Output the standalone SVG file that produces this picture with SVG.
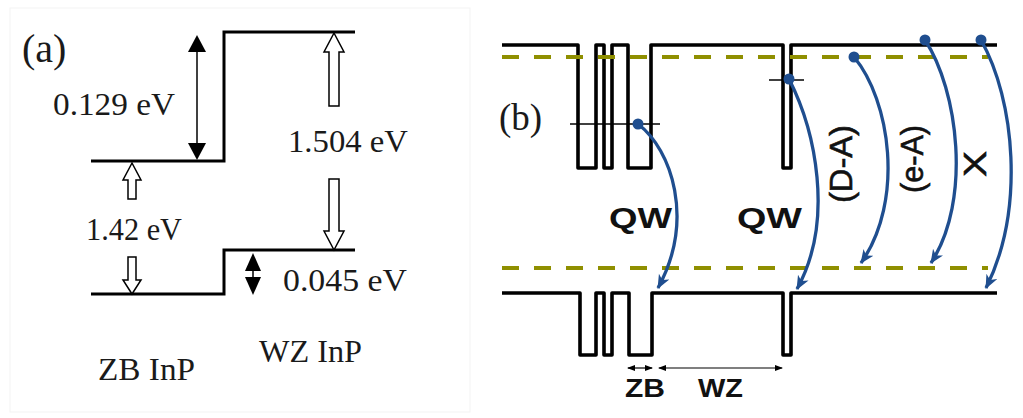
<svg xmlns="http://www.w3.org/2000/svg" width="1023" height="418" viewBox="0 0 1023 418">
<style>
.band{fill:none;stroke:#000;stroke-width:3;stroke-linejoin:miter}
.bandb{fill:none;stroke:#000;stroke-width:3.6;stroke-linejoin:round}
.thin{fill:none;stroke:#000;stroke-width:1.3}
.hollow{fill:#fff;stroke:#000;stroke-width:1.5}
.solid{fill:#000}
.serif{font-family:"Liberation Serif","Times New Roman",serif;fill:#1a1a1a}
.sans{font-family:"Liberation Sans",Arial,sans-serif;font-weight:bold;fill:#111}
.rot{font-family:"Liberation Sans",Arial,sans-serif;fill:#111;stroke:#111;stroke-width:0.6}
.dash{fill:none;stroke:#8f8f00;stroke-width:4;stroke-dasharray:17 15}
.trans{fill:none;stroke:#1f4e8f;stroke-width:3.3;marker-end:url(#blueHead)}
.dot{fill:#1f4e8f}
.dim{fill:none;stroke:#000;stroke-width:1.2;marker-start:url(#smallHead);marker-end:url(#smallHead)}
</style>
<defs>
<marker id="blueHead" markerUnits="userSpaceOnUse" markerWidth="16" markerHeight="14" refX="13" refY="6" orient="auto">
<path d="M0,0 L14,6 L0,12 L4,6 Z" fill="#1f4e8f"/>
</marker>
<marker id="smallHead" markerUnits="userSpaceOnUse" markerWidth="8" markerHeight="6" refX="7" refY="3" orient="auto-start-reverse">
<path d="M0,0 L8,3 L0,6 Z" fill="#000"/>
</marker>
</defs>
<rect x="0" y="0" width="1023" height="418" fill="#fff"/>
<rect x="10" y="8" width="460" height="404" fill="none" stroke="#f3f3f3" stroke-width="1"/>

<g id="panel-a">
<g id="band-a-conduction">
<path class="band" d="M91,161 H224 V32 H355"/>
</g>
<g id="band-a-valence">
<path class="band" d="M91,294 H224 V250 H355"/>
</g>
<g id="arrow-0129">
<line x1="197" y1="50" x2="197" y2="145" stroke="#000" stroke-width="1.5"/>
<polygon class="solid" points="197,35 188,52 206,52"/>
<polygon class="solid" points="197,160 188,143 206,143"/>
</g>
<g id="arrow-0045">
<line x1="253" y1="268" x2="253" y2="280" stroke="#000" stroke-width="1.5"/>
<polygon class="solid" points="253,253 245,271 261,271"/>
<polygon class="solid" points="253,295 245,277 261,277"/>
</g>
<g id="gap-zb">
<polygon class="hollow" points="132,163 141,180 136,180 136,199 128,199 128,180 123,180"/>
<polygon class="hollow" points="128,257 136,257 136,280 141,280 132,294 123,280 128,280"/>
</g>
<g id="gap-wz">
<polygon class="hollow" points="334,33 344,52 339,52 339,106 329,106 329,52 324,52"/>
<polygon class="hollow" points="329,179 339,179 339,231 344,231 334,250 324,231 329,231"/>
</g>
<text class="serif" x="22" y="62" font-size="40">(a)</text>
<text class="serif" x="53" y="115" font-size="32" textLength="122" lengthAdjust="spacingAndGlyphs">0.129 eV</text>
<text class="serif" x="288" y="152" font-size="32" textLength="120" lengthAdjust="spacingAndGlyphs">1.504 eV</text>
<text class="serif" x="86" y="240" font-size="32" textLength="96" lengthAdjust="spacingAndGlyphs">1.42 eV</text>
<text class="serif" x="283" y="291" font-size="32" textLength="124" lengthAdjust="spacingAndGlyphs">0.045 eV</text>
<text class="serif" x="98" y="380" font-size="32" textLength="97" lengthAdjust="spacingAndGlyphs">ZB InP</text>
<text class="serif" x="259" y="362" font-size="32" textLength="103" lengthAdjust="spacingAndGlyphs">WZ InP</text>
</g>

<g id="panel-b">
<text class="serif" x="499" y="130" font-size="37">(b)</text>
<g id="conduction-band">
<path class="bandb" d="M502,45 H578 V168 H596 V45 H604 V168 H612 V45 H628 V168 H651 V45 H783 V168 H791 V45 H997"/>
</g>
<g id="valence-band">
<path class="bandb" d="M502,293 H580 V355 H596 V293 H604 V355 H612 V293 H629 V355 H652 V293 H783 V355 H791 V293 H997"/>
</g>
<g id="levels">
<path class="dash" d="M502,57 H988"/>
<path class="dash" d="M502,268 H988"/>
<line class="thin" x1="570" y1="124" x2="660" y2="124"/>
<line class="thin" x1="769" y1="80" x2="804" y2="80"/>
</g>
<g id="connectors">
<path class="trans" d="M638,124 C672,150 695,220 658,288"/>
<path class="trans" d="M789,79 C815,130 835,220 797,289"/>
<path class="trans" d="M854,57 C890,100 905,200 861,263"/>
<path class="trans" d="M925,40 C958,90 972,200 931,263"/>
<path class="trans" d="M981,40 C1015,100 1025,210 986,288"/>
<circle class="dot" cx="638" cy="124" r="5.5"/>
<circle class="dot" cx="789" cy="79" r="5.5"/>
<circle class="dot" cx="854" cy="57" r="5.5"/>
<circle class="dot" cx="925" cy="40" r="5.5"/>
<circle class="dot" cx="981" cy="40" r="5.5"/>
<path class="dim" d="M628,368 H652"/>
<path class="dim" d="M659,368 H782"/>
</g>
<g id="labels-b">
<text class="sans" x="609" y="228" font-size="29" textLength="63" lengthAdjust="spacingAndGlyphs">QW</text>
<text class="sans" x="737" y="228" font-size="29" textLength="65" lengthAdjust="spacingAndGlyphs">QW</text>
<text class="rot" transform="translate(852,164) rotate(-90)" text-anchor="middle" font-size="31" textLength="78" lengthAdjust="spacingAndGlyphs">(D-A)</text>
<text class="rot" transform="translate(923,159) rotate(-90)" text-anchor="middle" font-size="31" textLength="68" lengthAdjust="spacingAndGlyphs">(e-A)</text>
<text class="rot" transform="translate(986,164) rotate(-90)" text-anchor="middle" font-size="31" textLength="26" lengthAdjust="spacingAndGlyphs">X</text>
<text class="sans" x="625" y="397" font-size="25" textLength="40" lengthAdjust="spacingAndGlyphs">ZB</text>
<text class="sans" x="698" y="397" font-size="25" textLength="45" lengthAdjust="spacingAndGlyphs">WZ</text>
</g>
</g>
</svg>
